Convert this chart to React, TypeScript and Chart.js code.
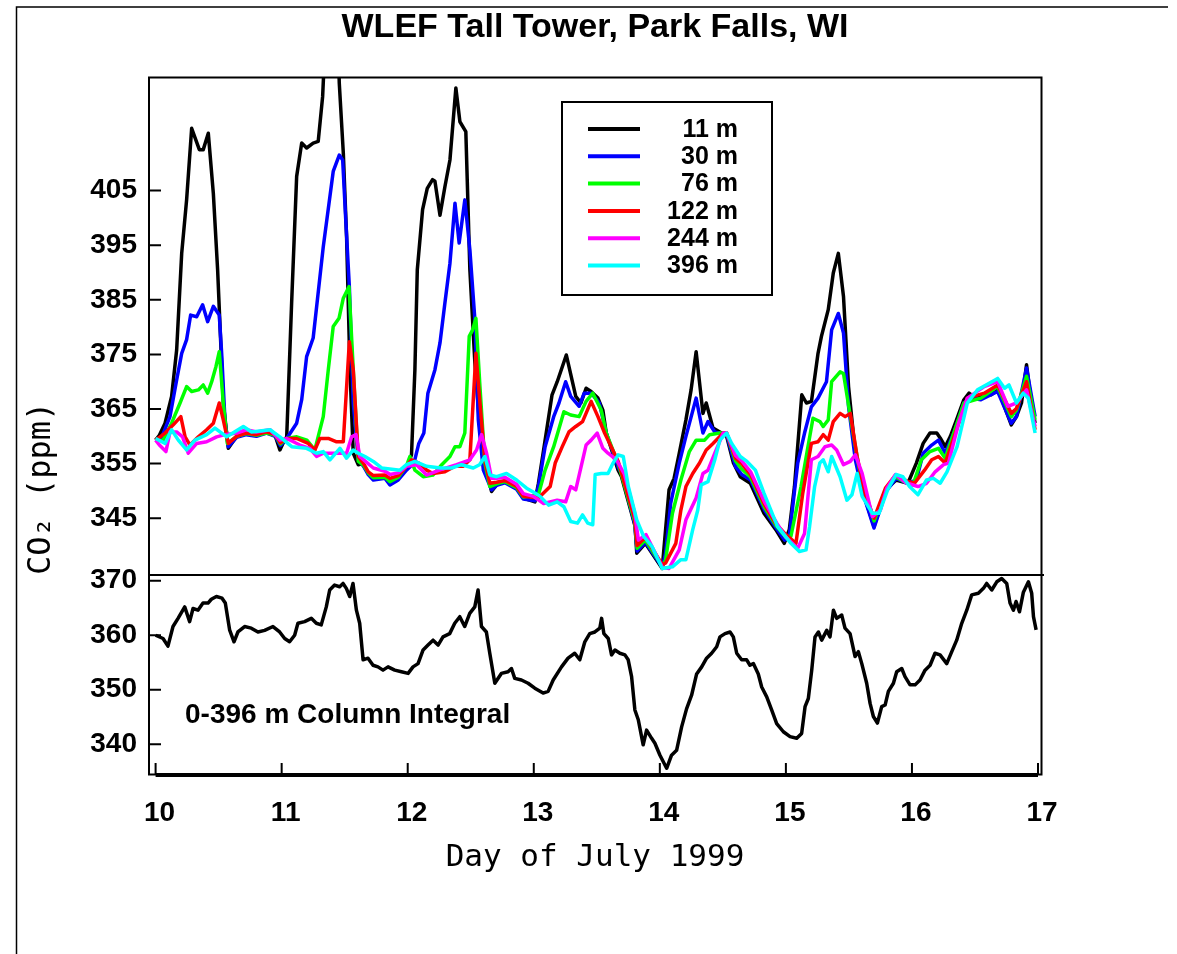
import React, { useEffect, useRef } from 'react';
import { Chart, registerables } from 'chart.js';

Chart.register(...registerables);

const chartTitle = 'WLEF Tall Tower, Park Falls, WI';
const xAxisTitle = 'Day of July 1999';
const yAxisTitle = 'CO\u2082 (ppm)';
const columnLabel = '0-396 m Column Integral';

const dayTicks = [10, 11, 12, 13, 14, 15, 16, 17];
const towerTicks = [345, 355, 365, 375, 385, 395, 405];
const columnTicks = [340, 350, 360, 370];

const heightLabels = ['11 m', '30 m', '76 m', '122 m', '244 m', '396 m'];
const heightColors = ['#000000', '#0000ff', '#00ff00', '#ff0000', '#ff00ff', '#00ffff'];

const co2At11m: [number, number][] = [
  [10.0, 359.3], [10.03, 360.2], [10.075, 362.4], [10.127, 367.3], [10.167, 375.8], [10.207, 393.5], [10.246, 403.3], [10.286, 416.4], [10.347, 412.5], [10.378, 412.5], [10.418, 415.5], [10.458, 404.5], [10.492, 390.5], [10.537, 366.1], [10.577, 357.8], [10.643, 360.0], [10.72, 360.5], [10.8, 360.3], [10.88, 360.8], [10.95, 360.0], [10.986, 357.5], [11.01, 358.7], [11.04, 359.9], [11.079, 384.4], [11.119, 407.6], [11.159, 413.7], [11.198, 412.8], [11.25, 413.7], [11.29, 414.0], [11.325, 422.2], [11.36, 440.0], [11.44, 440.0], [11.457, 424.7], [11.489, 411.9], [11.515, 396.6], [11.542, 372.2], [11.568, 356.9], [11.608, 354.8], [11.64, 355.0], [11.687, 353.2], [11.727, 352.3], [11.82, 352.6], [11.859, 351.4], [11.925, 352.3], [11.99, 354.2], [12.03, 356.6], [12.057, 372.2], [12.076, 390.5], [12.118, 401.5], [12.155, 405.4], [12.197, 407.0], [12.216, 406.7], [12.256, 400.5], [12.295, 405.7], [12.335, 410.6], [12.382, 423.8], [12.414, 417.6], [12.461, 415.8], [12.493, 390.5], [12.533, 373.4], [12.573, 361.2], [12.626, 353.8], [12.665, 349.9], [12.705, 351.1], [12.771, 351.7], [12.864, 350.5], [12.917, 348.7], [13.009, 348.0], [13.037, 351.4], [13.078, 357.5], [13.145, 367.6], [13.186, 370.0], [13.258, 374.9], [13.333, 367.3], [13.374, 366.1], [13.415, 368.8], [13.455, 368.2], [13.509, 367.0], [13.548, 364.8], [13.575, 360.6], [13.669, 353.8], [13.696, 352.6], [13.804, 343.5], [13.817, 338.6], [13.885, 340.4], [14.019, 335.8], [14.073, 350.2], [14.113, 352.3], [14.154, 356.9], [14.207, 363.0], [14.248, 368.5], [14.288, 375.5], [14.342, 364.2], [14.368, 366.1], [14.422, 361.5], [14.476, 360.8], [14.53, 360.0], [14.584, 355.1], [14.638, 352.6], [14.718, 351.4], [14.826, 345.9], [14.92, 342.9], [14.987, 340.4], [15.027, 342.9], [15.068, 350.8], [15.126, 367.6], [15.163, 366.1], [15.203, 366.4], [15.255, 375.2], [15.282, 378.3], [15.336, 383.2], [15.376, 389.9], [15.416, 393.5], [15.457, 385.6], [15.497, 369.1], [15.551, 356.9], [15.605, 350.2], [15.699, 343.5], [15.794, 350.2], [15.874, 352.0], [15.968, 351.4], [16.035, 355.1], [16.089, 358.7], [16.143, 360.6], [16.197, 360.6], [16.224, 359.7], [16.264, 358.1], [16.305, 360.0], [16.358, 363.3], [16.412, 366.7], [16.453, 367.9], [16.507, 367.0], [16.561, 367.6], [16.628, 367.6], [16.68, 368.5], [16.709, 367.0], [16.788, 362.1], [16.829, 363.6], [16.869, 366.1], [16.909, 373.1], [16.95, 365.5], [16.977, 362.4],
];

const co2At30m: [number, number][] = [
  [10.0, 359.3], [10.05, 359.9], [10.114, 363.6], [10.167, 370.3], [10.207, 375.2], [10.246, 377.7], [10.278, 382.2], [10.326, 381.9], [10.373, 384.1], [10.413, 381.0], [10.458, 383.8], [10.505, 382.2], [10.524, 375.2], [10.55, 363.0], [10.577, 358.1], [10.643, 359.8], [10.72, 360.3], [10.8, 360.0], [10.88, 360.6], [10.95, 360.0], [10.99, 358.3], [11.04, 359.6], [11.119, 362.4], [11.159, 366.7], [11.198, 374.6], [11.25, 378.0], [11.33, 394.7], [11.409, 408.5], [11.457, 411.5], [11.484, 410.6], [11.51, 399.0], [11.537, 387.4], [11.568, 366.1], [11.608, 355.7], [11.65, 354.5], [11.687, 353.0], [11.727, 352.0], [11.82, 352.3], [11.859, 351.1], [11.925, 352.0], [11.99, 353.8], [12.05, 355.1], [12.088, 358.7], [12.128, 360.6], [12.16, 367.9], [12.216, 372.2], [12.256, 377.1], [12.295, 384.4], [12.335, 391.7], [12.375, 402.7], [12.408, 395.4], [12.453, 403.3], [12.493, 394.2], [12.533, 381.3], [12.56, 363.0], [12.6, 353.8], [12.665, 350.2], [12.705, 351.0], [12.771, 351.5], [12.864, 350.3], [12.917, 348.5], [13.009, 348.2], [13.037, 350.8], [13.09, 358.1], [13.158, 363.6], [13.2, 366.1], [13.253, 370.0], [13.293, 367.3], [13.36, 365.5], [13.4, 367.9], [13.455, 367.9], [13.52, 366.1], [13.575, 360.6], [13.67, 354.3], [13.7, 353.0], [13.8, 344.0], [13.82, 339.0], [13.885, 340.6], [14.02, 336.0], [14.046, 338.6], [14.086, 347.7], [14.154, 355.1], [14.207, 360.0], [14.288, 367.0], [14.342, 360.6], [14.382, 362.7], [14.436, 360.8], [14.53, 360.3], [14.6, 354.5], [14.65, 353.0], [14.72, 352.0], [14.83, 346.5], [14.92, 343.3], [14.99, 341.0], [15.027, 341.7], [15.094, 355.1], [15.148, 360.6], [15.202, 365.4], [15.255, 367.0], [15.322, 370.0], [15.363, 379.5], [15.416, 382.5], [15.457, 378.9], [15.497, 365.5], [15.551, 355.7], [15.605, 350.0], [15.699, 343.2], [15.794, 349.9], [15.874, 352.3], [15.968, 351.4], [16.035, 352.0], [16.089, 356.9], [16.157, 358.4], [16.21, 359.3], [16.264, 356.9], [16.332, 360.6], [16.412, 366.1], [16.466, 367.0], [16.547, 366.7], [16.68, 368.2], [16.788, 362.4], [16.829, 363.6], [16.909, 372.5], [16.977, 363.6],
];

const co2At76m: [number, number][] = [
  [10.0, 359.3], [10.06, 359.3], [10.127, 362.4], [10.194, 366.1], [10.246, 369.1], [10.286, 368.2], [10.339, 368.5], [10.378, 369.4], [10.413, 367.9], [10.445, 370.0], [10.479, 372.8], [10.505, 375.5], [10.537, 366.1], [10.569, 358.7], [10.643, 360.0], [10.72, 360.5], [10.8, 360.2], [10.88, 360.6], [10.95, 360.2], [10.99, 358.6], [11.04, 359.6], [11.12, 359.9], [11.2, 359.3], [11.263, 357.5], [11.33, 363.6], [11.37, 372.2], [11.409, 380.1], [11.455, 381.6], [11.489, 385.3], [11.534, 387.4], [11.568, 372.2], [11.608, 355.4], [11.65, 354.7], [11.687, 353.3], [11.727, 352.4], [11.82, 352.5], [11.859, 351.7], [11.925, 352.5], [11.99, 354.6], [12.017, 356.3], [12.057, 353.8], [12.123, 352.6], [12.2, 352.9], [12.27, 354.8], [12.335, 356.3], [12.375, 358.1], [12.414, 358.1], [12.453, 360.6], [12.488, 378.3], [12.515, 379.5], [12.541, 381.6], [12.573, 369.1], [12.612, 355.1], [12.652, 350.8], [12.705, 351.3], [12.771, 351.7], [12.864, 350.6], [12.917, 348.9], [13.037, 349.3], [13.09, 353.8], [13.158, 358.1], [13.239, 364.5], [13.293, 363.9], [13.36, 363.6], [13.415, 366.4], [13.468, 367.9], [13.535, 364.8], [13.575, 360.6], [13.67, 355.0], [13.8, 344.5], [13.82, 339.5], [13.885, 341.0], [14.02, 336.2], [14.046, 337.4], [14.1, 345.9], [14.167, 352.0], [14.234, 357.2], [14.288, 359.3], [14.355, 359.3], [14.395, 360.3], [14.476, 360.6], [14.53, 360.6], [14.6, 355.5], [14.65, 354.0], [14.72, 352.5], [14.83, 347.0], [14.92, 343.7], [15.0, 341.5], [15.04, 341.7], [15.12, 350.8], [15.175, 358.1], [15.215, 363.3], [15.27, 362.7], [15.296, 361.8], [15.336, 363.0], [15.363, 370.0], [15.43, 371.8], [15.457, 371.5], [15.524, 361.8], [15.578, 354.5], [15.64, 349.0], [15.7, 344.5], [15.79, 350.2], [15.87, 352.6], [15.96, 351.4], [16.008, 351.1], [16.075, 355.7], [16.143, 357.2], [16.21, 357.8], [16.264, 356.0], [16.358, 362.4], [16.412, 366.1], [16.547, 367.0], [16.68, 369.1], [16.788, 363.6], [16.829, 364.8], [16.909, 371.0], [16.977, 363.0],
];

const co2At122m: [number, number][] = [
  [10.0, 359.3], [10.075, 360.6], [10.14, 362.1], [10.2, 363.6], [10.234, 359.9], [10.273, 358.4], [10.339, 359.9], [10.405, 361.2], [10.458, 362.4], [10.505, 366.1], [10.537, 363.0], [10.577, 358.7], [10.643, 360.0], [10.72, 360.6], [10.8, 360.3], [10.88, 360.8], [10.95, 360.3], [10.99, 358.8], [11.04, 359.6], [11.119, 359.6], [11.211, 358.7], [11.263, 357.5], [11.303, 359.6], [11.37, 359.6], [11.436, 359.0], [11.489, 359.0], [11.537, 377.3], [11.568, 372.2], [11.608, 356.3], [11.65, 355.0], [11.687, 353.5], [11.727, 352.8], [11.82, 352.9], [11.859, 352.3], [11.925, 352.8], [11.99, 354.5], [12.03, 355.7], [12.088, 355.1], [12.15, 353.8], [12.2, 353.2], [12.295, 353.5], [12.375, 354.5], [12.44, 354.5], [12.493, 355.7], [12.541, 375.2], [12.573, 366.1], [12.612, 355.7], [12.652, 351.4], [12.705, 351.6], [12.771, 351.9], [12.864, 350.8], [12.917, 349.0], [13.037, 348.7], [13.13, 350.8], [13.17, 355.1], [13.226, 358.1], [13.279, 360.8], [13.333, 361.8], [13.387, 362.7], [13.455, 366.4], [13.509, 363.6], [13.562, 360.6], [13.67, 355.4], [13.8, 345.0], [13.82, 340.0], [13.885, 341.5], [14.02, 336.5], [14.046, 336.8], [14.127, 340.4], [14.167, 346.5], [14.207, 350.8], [14.261, 353.2], [14.315, 355.1], [14.368, 357.5], [14.422, 358.7], [14.503, 360.6], [14.53, 360.6], [14.6, 356.0], [14.65, 355.0], [14.72, 353.0], [14.83, 347.5], [14.92, 344.0], [15.0, 342.0], [15.08, 340.4], [15.134, 349.6], [15.202, 358.7], [15.255, 359.0], [15.296, 360.3], [15.336, 359.3], [15.376, 362.7], [15.43, 364.2], [15.47, 363.6], [15.511, 364.2], [15.565, 356.3], [15.632, 349.0], [15.7, 345.0], [15.79, 350.5], [15.87, 352.9], [15.96, 351.8], [16.02, 351.4], [16.1, 353.8], [16.157, 355.7], [16.21, 356.3], [16.264, 355.1], [16.358, 361.5], [16.439, 367.0], [16.574, 367.9], [16.68, 369.4], [16.788, 364.2], [16.829, 365.1], [16.909, 370.0], [16.977, 361.2],
];

const co2At244m: [number, number][] = [
  [10.0, 359.3], [10.03, 358.4], [10.082, 357.2], [10.114, 360.8], [10.167, 360.8], [10.214, 359.9], [10.259, 356.9], [10.326, 358.7], [10.405, 359.0], [10.484, 359.9], [10.55, 360.3], [10.643, 360.6], [10.72, 361.2], [10.8, 360.8], [10.908, 361.2], [10.986, 359.3], [11.04, 359.6], [11.145, 358.4], [11.224, 357.8], [11.277, 356.3], [11.33, 356.9], [11.43, 356.9], [11.515, 356.9], [11.555, 359.9], [11.59, 360.3], [11.62, 356.3], [11.66, 355.5], [11.727, 354.2], [11.82, 353.6], [11.86, 353.0], [11.925, 353.3], [11.99, 354.5], [12.07, 354.8], [12.15, 352.9], [12.25, 353.8], [12.388, 354.8], [12.493, 355.7], [12.546, 357.5], [12.586, 360.3], [12.626, 356.9], [12.665, 352.3], [12.705, 352.3], [12.771, 352.5], [12.864, 351.2], [12.917, 349.5], [12.997, 349.0], [13.078, 347.7], [13.186, 348.3], [13.253, 348.0], [13.293, 350.8], [13.333, 350.2], [13.415, 358.4], [13.455, 359.3], [13.503, 360.6], [13.548, 357.8], [13.589, 356.9], [13.656, 355.7], [13.72, 353.0], [13.8, 346.0], [13.83, 341.0], [13.89, 342.0], [14.02, 336.0], [14.073, 335.8], [14.154, 339.2], [14.207, 344.7], [14.288, 348.7], [14.342, 353.2], [14.382, 353.8], [14.436, 356.9], [14.503, 360.6], [14.53, 360.6], [14.6, 356.5], [14.65, 355.5], [14.72, 353.5], [14.83, 348.0], [14.93, 344.0], [15.0, 341.5], [15.094, 339.5], [15.148, 342.2], [15.202, 355.7], [15.255, 356.3], [15.31, 358.1], [15.363, 358.4], [15.403, 357.5], [15.457, 354.8], [15.511, 355.4], [15.551, 356.6], [15.605, 353.2], [15.686, 345.3], [15.75, 346.5], [15.8, 350.5], [15.87, 353.0], [15.95, 351.5], [16.048, 350.8], [16.116, 351.4], [16.184, 353.5], [16.251, 354.8], [16.29, 355.1], [16.37, 362.4], [16.439, 367.0], [16.574, 369.1], [16.68, 370.0], [16.76, 365.5], [16.829, 366.1], [16.909, 368.5], [16.977, 361.8],
];

const co2At396m: [number, number][] = [
  [10.0, 359.6], [10.075, 358.7], [10.127, 361.2], [10.18, 359.3], [10.246, 357.5], [10.312, 359.3], [10.405, 360.3], [10.471, 361.5], [10.564, 359.9], [10.696, 361.8], [10.762, 360.8], [10.908, 361.2], [10.986, 359.9], [11.08, 358.1], [11.198, 357.8], [11.277, 356.9], [11.33, 357.2], [11.383, 355.7], [11.462, 357.8], [11.515, 356.0], [11.568, 357.5], [11.608, 356.9], [11.661, 356.3], [11.727, 355.4], [11.793, 354.2], [11.939, 353.8], [11.99, 354.8], [12.057, 355.4], [12.15, 354.5], [12.26, 354.2], [12.348, 354.2], [12.427, 354.8], [12.52, 354.2], [12.57, 354.8], [12.612, 356.3], [12.652, 352.9], [12.705, 352.6], [12.784, 353.2], [12.864, 352.0], [12.943, 350.5], [13.009, 349.6], [13.05, 349.0], [13.118, 347.4], [13.186, 348.0], [13.239, 347.1], [13.293, 344.4], [13.347, 344.1], [13.387, 345.6], [13.428, 344.1], [13.468, 343.8], [13.487, 353.0], [13.535, 353.2], [13.589, 353.2], [13.629, 355.1], [13.669, 356.6], [13.71, 356.3], [13.75, 350.8], [13.817, 344.7], [13.871, 341.7], [13.938, 339.8], [14.019, 335.8], [14.1, 336.1], [14.167, 337.4], [14.207, 337.4], [14.261, 342.9], [14.301, 346.5], [14.328, 351.1], [14.382, 351.7], [14.436, 355.7], [14.476, 359.3], [14.53, 360.6], [14.57, 358.7], [14.638, 356.3], [14.691, 355.4], [14.758, 353.8], [14.826, 349.6], [14.933, 343.5], [15.04, 340.4], [15.107, 338.9], [15.16, 339.2], [15.188, 343.5], [15.228, 350.8], [15.269, 355.1], [15.296, 355.7], [15.336, 353.5], [15.363, 356.3], [15.43, 352.6], [15.484, 348.3], [15.524, 349.3], [15.565, 353.2], [15.605, 349.0], [15.686, 345.9], [15.739, 345.9], [15.807, 350.2], [15.874, 353.0], [15.928, 352.6], [15.981, 350.8], [16.048, 349.3], [16.116, 352.0], [16.17, 352.3], [16.224, 351.4], [16.278, 353.5], [16.358, 358.1], [16.439, 366.1], [16.52, 368.5], [16.588, 369.4], [16.68, 370.6], [16.735, 368.8], [16.77, 369.4], [16.829, 366.1], [16.882, 367.9], [16.923, 367.0], [16.977, 360.6],
];

const columnIntegral: [number, number][] = [
  [10.0, 360.0], [10.059, 359.4], [10.098, 358.0], [10.138, 361.6], [10.178, 363.1], [10.231, 365.2], [10.27, 362.5], [10.297, 364.9], [10.336, 364.6], [10.376, 365.9], [10.416, 365.9], [10.442, 366.6], [10.482, 367.1], [10.527, 366.8], [10.553, 365.9], [10.587, 361.0], [10.622, 358.8], [10.653, 360.6], [10.706, 361.6], [10.759, 361.3], [10.812, 360.6], [10.865, 360.9], [10.931, 361.6], [10.984, 360.6], [11.024, 359.4], [11.063, 358.8], [11.103, 360.0], [11.129, 362.2], [11.182, 362.5], [11.235, 363.1], [11.275, 362.2], [11.314, 361.9], [11.354, 365.2], [11.381, 368.3], [11.42, 369.2], [11.46, 368.9], [11.487, 369.5], [11.513, 368.6], [11.54, 367.1], [11.566, 369.5], [11.593, 364.6], [11.619, 362.2], [11.646, 355.5], [11.685, 355.8], [11.725, 354.5], [11.764, 354.2], [11.804, 353.6], [11.844, 354.2], [11.897, 353.6], [11.95, 353.3], [12.003, 353.0], [12.042, 354.2], [12.082, 354.8], [12.122, 357.3], [12.161, 358.2], [12.201, 359.1], [12.241, 358.2], [12.28, 359.7], [12.333, 360.3], [12.373, 362.2], [12.413, 363.4], [12.452, 361.6], [12.492, 364.0], [12.532, 365.2], [12.558, 368.3], [12.585, 361.6], [12.624, 360.6], [12.651, 356.7], [12.691, 351.2], [12.743, 353.0], [12.796, 353.3], [12.823, 353.9], [12.849, 352.1], [12.902, 351.8], [12.955, 351.2], [13.008, 350.3], [13.074, 349.4], [13.114, 349.7], [13.154, 351.8], [13.22, 354.2], [13.272, 355.8], [13.325, 356.7], [13.365, 355.5], [13.405, 358.8], [13.444, 360.3], [13.485, 360.6], [13.524, 361.3], [13.538, 363.1], [13.556, 360.3], [13.591, 359.4], [13.617, 356.4], [13.644, 357.3], [13.683, 356.7], [13.723, 356.4], [13.749, 355.5], [13.776, 352.4], [13.802, 346.3], [13.829, 344.5], [13.868, 339.9], [13.895, 342.6], [13.935, 341.1], [13.961, 340.2], [14.001, 338.0], [14.054, 335.6], [14.093, 338.0], [14.133, 338.9], [14.173, 343.2], [14.212, 346.5], [14.252, 349.0], [14.292, 352.9], [14.332, 354.2], [14.371, 355.8], [14.411, 356.7], [14.451, 357.9], [14.477, 359.7], [14.517, 360.3], [14.557, 360.6], [14.583, 359.7], [14.61, 356.7], [14.649, 355.5], [14.689, 355.5], [14.715, 354.5], [14.742, 354.8], [14.781, 352.9], [14.808, 350.5], [14.848, 348.7], [14.887, 346.3], [14.927, 343.8], [14.98, 342.3], [15.033, 341.4], [15.086, 341.1], [15.125, 342.0], [15.152, 346.9], [15.178, 348.4], [15.205, 353.6], [15.231, 359.7], [15.258, 360.6], [15.284, 359.1], [15.324, 360.9], [15.35, 359.7], [15.377, 364.6], [15.403, 363.1], [15.443, 363.7], [15.469, 361.3], [15.509, 360.3], [15.549, 356.1], [15.575, 357.0], [15.602, 354.8], [15.641, 351.2], [15.668, 347.5], [15.694, 345.1], [15.726, 343.9], [15.76, 346.9], [15.787, 347.2], [15.813, 349.7], [15.853, 351.2], [15.879, 353.3], [15.919, 353.9], [15.945, 352.4], [15.985, 350.9], [16.025, 350.9], [16.064, 351.8], [16.104, 353.6], [16.144, 354.5], [16.183, 356.7], [16.223, 356.4], [16.276, 354.8], [16.316, 357.0], [16.355, 359.1], [16.395, 362.2], [16.435, 364.6], [16.474, 367.4], [16.527, 367.7], [16.567, 368.6], [16.593, 369.5], [16.633, 368.3], [16.673, 369.8], [16.712, 370.4], [16.752, 369.5], [16.778, 365.9], [16.805, 364.6], [16.826, 366.2], [16.853, 364.3], [16.884, 367.9], [16.924, 369.8], [16.95, 367.7], [16.964, 363.4], [16.985, 361.0],
];

const towerSeries = [co2At11m, co2At30m, co2At76m, co2At122m, co2At244m, co2At396m];

const boldFamily = '"Liberation Sans", Arial, Helvetica, sans-serif';
const monoFamily = '"DejaVu Sans Mono", monospace';

const decorPlugin = {
  id: 'wlefDecor',
  afterDraw(chart: any) {
    const { ctx, chartArea: ca, scales } = chart;
    const xs = scales.x;
    const yT = scales.yTower;
    const yC = scales.yColumn;
    ctx.save();
    ctx.strokeStyle = '#000';
    ctx.fillStyle = '#000';

    // page border
    ctx.lineWidth = 1.5;
    ctx.beginPath();
    ctx.moveTo(16.5, chart.height);
    ctx.lineTo(16.5, 7);
    ctx.lineTo(1168, 7);
    ctx.stroke();

    // plot frame
    ctx.lineWidth = 2;
    ctx.strokeRect(ca.left + 1, ca.top + 0.5, ca.right - ca.left - 1.5, ca.bottom - ca.top - 1);

    // panel divider
    ctx.beginPath();
    ctx.moveTo(ca.left, yT.bottom);
    ctx.lineTo(ca.right + 2, yT.bottom);
    ctx.stroke();

    // inner y ticks
    ctx.beginPath();
    for (const s of [yT, yC]) {
      for (const t of s.ticks) {
        const py = s.getPixelForValue(t.value);
        ctx.moveTo(ca.left, py);
        ctx.lineTo(ca.left + 13, py);
      }
    }
    ctx.stroke();

    // x axis line between first and last day
    const x0 = xs.getPixelForValue(dayTicks[0]);
    const x1 = xs.getPixelForValue(dayTicks[dayTicks.length - 1]);
    ctx.lineWidth = 4;
    ctx.beginPath();
    ctx.moveTo(x0, ca.bottom);
    ctx.lineTo(x1, ca.bottom);
    ctx.stroke();

    // x ticks pointing up
    ctx.lineWidth = 2;
    ctx.beginPath();
    for (const t of xs.ticks) {
      const px = xs.getPixelForValue(t.value);
      ctx.moveTo(px, ca.bottom);
      ctx.lineTo(px, ca.bottom - 12);
    }
    ctx.stroke();

    // column label
    ctx.font = `bold 28px ${boldFamily}`;
    ctx.textAlign = 'left';
    ctx.textBaseline = 'alphabetic';
    ctx.fillText(columnLabel, ca.left + 37, yC.top + 147.5);

    // legend
    const bx = ca.left + 414;
    const by = ca.top + 25;
    ctx.lineWidth = 2;
    ctx.strokeRect(bx, by, 210, 193);
    ctx.font = `bold 25px ${boldFamily}`;
    ctx.textAlign = 'right';
    ctx.textBaseline = 'middle';
    const towerSets = chart.data.datasets.filter((d: any) => d.yAxisID === 'yTower');
    towerSets.forEach((d: any, i: number) => {
      const ry = by + 27 + i * 27.3;
      ctx.strokeStyle = d.borderColor;
      ctx.lineWidth = 4;
      ctx.beginPath();
      ctx.moveTo(bx + 26, ry);
      ctx.lineTo(bx + 78, ry);
      ctx.stroke();
      ctx.fillStyle = '#000';
      ctx.fillText(d.label, bx + 176, ry + 1);
    });
    ctx.restore();
  },
};

export default function App() {
  const canvasRef = useRef<HTMLCanvasElement | null>(null);

  useEffect(() => {
    const canvas = canvasRef.current;
    if (!canvas) return;

    const towerDatasets = towerSeries.map((series, i) => ({
      label: heightLabels[i],
      data: series,
      borderColor: heightColors[i],
      backgroundColor: heightColors[i],
      borderWidth: 3.5,
      pointRadius: 0,
      tension: 0,
      borderJoinStyle: 'round' as const,
      xAxisID: 'x',
      yAxisID: 'yTower',
      order: towerSeries.length - i,
    }));

    const chart = new Chart(canvas, {
      type: 'line',
      data: {
        datasets: [
          ...towerDatasets,
          {
            label: columnLabel,
            data: columnIntegral,
            borderColor: '#000000',
            backgroundColor: '#000000',
            borderWidth: 3.5,
            pointRadius: 0,
            tension: 0,
            borderJoinStyle: 'round' as const,
            xAxisID: 'x',
            yAxisID: 'yColumn',
            order: 0,
          },
        ],
      },
      options: {
        animation: false,
        responsive: false,
        devicePixelRatio: 1,
        layout: { padding: { left: 0, right: 135, top: 0, bottom: 0 } },
        plugins: {
          legend: { display: false },
          tooltip: { enabled: false },
          title: {
            display: true,
            text: chartTitle,
            fullSize: false,
            color: '#000',
            font: { family: boldFamily, size: 34, weight: 'bold' },
            padding: { top: 7, bottom: 29.2 },
          },
        },
        scales: {
          x: {
            type: 'linear',
            position: 'bottom',
            min: 9.9397,
            max: 17.0317,
            afterBuildTicks: (s: any) => {
              s.ticks = dayTicks.map((v) => ({ value: v }));
            },
            afterFit: (s: any) => {
              s.height = 179;
            },
            grid: { display: false, drawTicks: false },
            border: { display: false },
            ticks: {
              autoSkip: false,
              maxRotation: 0,
              padding: 21,
              labelOffset: 4,
              color: '#000',
              font: { family: boldFamily, size: 28, weight: 'bold' },
              callback: (v: any) => String(v),
            },
            title: {
              display: true,
              text: xAxisTitle,
              color: '#000',
              font: { family: monoFamily, size: 31, weight: 'normal' },
              padding: { top: 0, bottom: 77 },
            },
          },
          yColumn: {
            type: 'linear',
            position: 'left',
            stack: 'panels',
            stackWeight: 200,
            min: 334.37,
            max: 371.05,
            afterBuildTicks: (s: any) => {
              s.ticks = columnTicks.map((v) => ({ value: v }));
            },
            afterFit: (s: any) => {
              s.width = 148;
            },
            grid: { display: false, drawTicks: false },
            border: { display: false },
            ticks: {
              autoSkip: false,
              padding: 11,
              color: '#000',
              font: { family: boldFamily, size: 28, weight: 'bold' },
              callback: (v: any) => String(v),
            },
          },
          yTower: {
            type: 'linear',
            position: 'left',
            stack: 'panels',
            stackWeight: 498,
            min: 334.6,
            max: 425.8,
            afterBuildTicks: (s: any) => {
              s.ticks = towerTicks.map((v) => ({ value: v }));
            },
            afterFit: (s: any) => {
              s.width = 148;
            },
            grid: { display: false, drawTicks: false },
            border: { display: false },
            ticks: {
              autoSkip: false,
              padding: 11,
              color: '#000',
              font: { family: boldFamily, size: 28, weight: 'bold' },
              callback: (v: any) => String(v),
            },
            title: {
              display: true,
              text: yAxisTitle,
              align: 'start',
              color: '#000',
              font: { family: monoFamily, size: 32, weight: 'normal' },
              padding: { top: 22, bottom: 0 },
            },
          },
        },
      },
      plugins: [decorPlugin],
    } as any);

    return () => {
      chart.destroy();
    };
  }, []);

  return (
    <div style={{ position: 'absolute', left: 0, top: 0, width: 1177, height: 954, background: '#fff' }}>
      <canvas ref={canvasRef} width={1177} height={954} style={{ display: 'block', width: 1177, height: 954 }} />
    </div>
  );
}
